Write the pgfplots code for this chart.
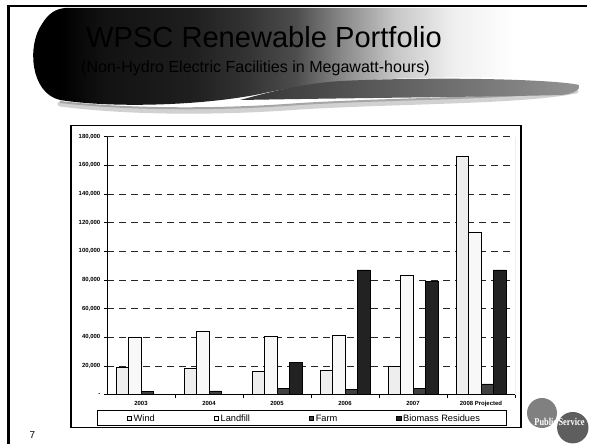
\documentclass[border=0pt]{standalone}
\usepackage{fontspec}
\setmainfont{Liberation Sans}
\newfontfamily\logofont{Liberation Serif}
\usepackage{pgfplots}
\pgfplotsset{compat=1.18}
\usepackage{pgfplotstable}

\definecolor{windc}{HTML}{EEEEEE}
\definecolor{landc}{HTML}{F8F8F8}
\definecolor{farmc}{HTML}{404040}
\definecolor{bioc}{HTML}{222222}

\pgfdeclarehorizontalshading{swoosh}{100bp}{color(0bp)=(black); color(28bp)=(black); color(32bp)=(black!93); color(40bp)=(black!88); color(45bp)=(black!80); color(49.5bp)=(black!70); color(54bp)=(black!45); color(58.6bp)=(black!22); color(64bp)=(black!6); color(69.5bp)=(white); color(100bp)=(white)}

% MWh by year
\pgfplotstableread{
x wind landfill farm biomass
0 19000 40000 2500 0
1 18500 44000 2700 0
2 16000 41000 4500 22500
3 17000 41500 3500 87000
4 20000 83500 4500 79000
5 166000 113500 7500 87000
}\portfolio

\begin{document}
\begin{tikzpicture}
\path[use as bounding box] (0,0) rectangle (592bp,444bp);

\begin{scope}[shift={(0,444bp)}, x=1bp, y=-1bp]
  % slide border
  \draw[black, line width=2bp] (8.5,5.8) -- (587,5.8);
  \draw[black, line width=2.8bp] (8.8,4.8) -- (8.8,444);
  % title swoosh
  \draw[black!18, line width=5bp, line cap=round] (60,104) .. controls (130,113) and (220,113) .. (300,107) .. controls (400,101) and (520,102) .. (576,91);
  \draw[black!35, line width=2bp] (60,102) .. controls (130,110) and (220,110) .. (300,104) .. controls (400,98) and (520,99) .. (576,89);
  \shade[shading=swoosh] (65,8) -- (575,8) -- (575,80) .. controls (450,74) and (330,78) .. (260,94) .. controls (200,106) and (110,108) .. (60,100) .. controls (30,93) and (27,45) .. (42,24) .. controls (48,14) and (55,9) .. (65,8) -- cycle;
  \shade[left color=black!80, right color=black!42] (240,100) .. controls (350,98) and (480,97) .. (562,95) .. controls (574,94) and (581,89) .. (579,85) .. controls (560,80) and (450,76) .. (340,81) .. controls (300,84) and (270,92) .. (240,100) -- cycle;
  \node[anchor=base west, inner sep=0pt] at (86,47.7) {\fontsize{29.2}{30}\selectfont WPSC Renewable Portfolio};
  \node[anchor=base west, inner sep=0pt] at (81,73) {\fontsize{16.1}{17}\selectfont (Non-Hydro Electric Facilities in Megawatt-hours)};
  % chart frame and legend box
  \draw[black, line width=1.3bp, fill=white] (71,125.7) rectangle (521,427.3);
  \draw[black, line width=0.8bp] (97.5,410.8) rectangle (506,425.3);
  % page number and logo
  \node[anchor=base, inner sep=0pt] at (32.3,439) {\fontsize{10}{10}\selectfont 7};
  \fill[black!50] (542,413) circle (15);
  \fill[black!63] (572.8,427.7) circle (15.7);
  \node[anchor=base, inner sep=0pt, text=white] at (559.5,426) {\scalebox{0.8}[1]{\fontsize{10.5}{11}\logofont\bfseries Public\,Service}};
\end{scope}

\begin{axis}[
  at={(107bp,49.3bp)}, anchor=south west,
  scale only axis, width=408bp, height=258bp,
  xmin=-0.5, xmax=5.5, ymin=0, ymax=180000,
  ybar=0pt, bar width=12.4bp,
  axis lines*=left,
  axis line style={-, black, line width=0.8bp},
  xtick={0,...,5},
  xticklabels={2003,2004,2005,2006,2007,2008 Projected},
  minor xtick={0.5,1.5,2.5,3.5,4.5,5.5},
  ytick={0,20000,...,180000},
  scaled y ticks=false,
  yticklabels={{-\hspace{6bp}},{20,000},{40,000},{60,000},{80,000},{100,000},{120,000},{140,000},{160,000},{180,000}},
  tick align=outside,
  major tick length=3bp, minor tick length=3bp,
  major x tick style={draw=none},
  tick style={black, line width=0.6bp},
  ymajorgrids,
  major grid style={black!85, line width=0.6bp, dash pattern=on 6.5bp off 5.5bp},
  ticklabel style={font=\fontsize{6}{7}\selectfont\bfseries, inner sep=0pt},
  yticklabel style={xshift=-3.5bp},
  xticklabel style={yshift=-3bp},
  legend style={at={(0.0483,-0.0926)}, anchor=west, draw=none, fill=none, inner sep=0pt,
    font=\fontsize{9.3}{11}\selectfont, nodes={inner sep=0pt},
    /tikz/every even column/.append style={column sep=59bp},
    /tikz/every odd column/.append style={column sep=2bp}},
  legend columns=4,
  legend cell align=left,
  legend image code/.code={\draw[#1, line width=0.6bp] (0bp,-2.1bp) rectangle (4.2bp,2.1bp);},
]
\addplot[fill=windc, draw=black, line width=0.6bp] table[x=x, y=wind] {\portfolio};
\addplot[fill=landc, draw=black, line width=0.6bp] table[x=x, y=landfill] {\portfolio};
\addplot[fill=farmc, draw=black, line width=0.6bp] table[x=x, y=farm] {\portfolio};
\addplot[fill=bioc, draw=black, line width=0.6bp] table[x=x, y=biomass] {\portfolio};
\legend{Wind, Landfill, Farm, Biomass Residues}
\draw[black!50, line width=0.8bp] (rel axis cs:1,0) -- (rel axis cs:1,1);
\end{axis}
\end{tikzpicture}
\end{document}
